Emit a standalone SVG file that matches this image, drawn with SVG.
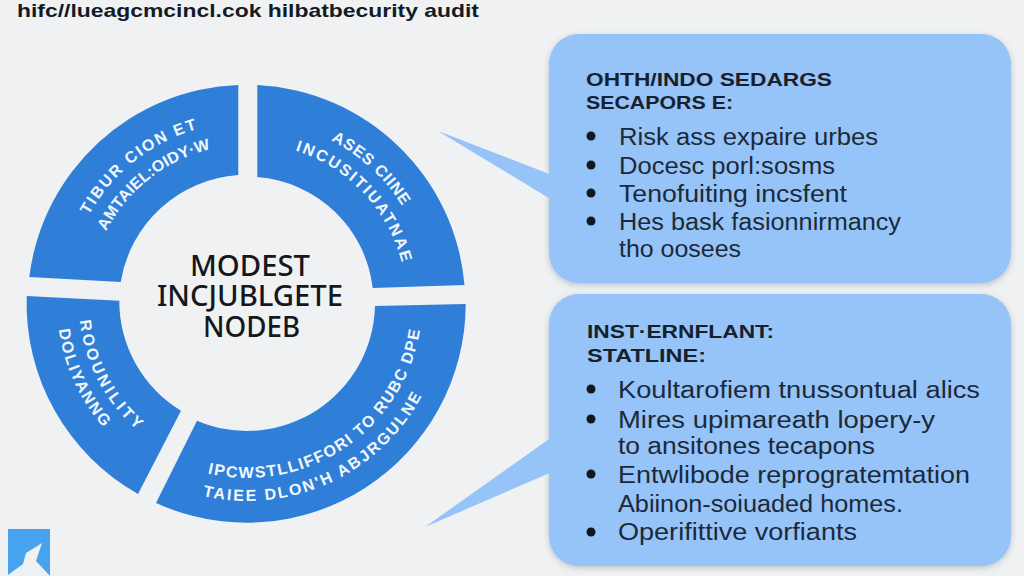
<svg xmlns="http://www.w3.org/2000/svg" width="1024" height="576" viewBox="0 0 1024 576">
<style>
.seg{fill:#2f7fd8}
.seglabel{font-family:"Liberation Sans",Arial,sans-serif;font-size:16px;font-weight:700;fill:#f2f7fd}
.center{font-family:"Noto Sans","Liberation Sans",sans-serif;font-size:28px;font-weight:500;fill:#14181d;text-anchor:start}
.panel{fill:#96c3f8;filter:url(#soft)}
.tail{fill:#96c3f8}
.head{font-family:"Liberation Sans",Arial,sans-serif;font-size:19px;font-weight:700;fill:#17212c}
.item{font-family:"Liberation Sans",Arial,sans-serif;font-size:23px;fill:#1c2a38}
.dot{fill:#10181f}
</style>
<defs>
<filter id="soft" x="-5%" y="-5%" width="110%" height="112%"><feDropShadow dx="0" dy="2" stdDeviation="3" flood-color="#5a6a7a" flood-opacity="0.35"/></filter>
<path id="tl1" d="M88.7 215.3A181 181 0 0 1 197.1 129"/>
<path id="tl2" d="M106.2 231.3A158 158 0 0 1 210.4 149.3"/>
<path id="tr1" d="M330.9 140.4A183 183 0 0 1 402.2 206"/>
<path id="tr2" d="M295.4 150.5A160 160 0 0 1 401.7 262.1"/>
<path id="br1" d="M207.6 473.5A175 175 0 0 0 419.8 330.4"/>
<path id="br2" d="M202.5 495.9A198 198 0 0 0 421.8 396"/>
<path id="bl1" d="M79.9 320.6A168 168 0 0 0 136.8 429.8"/>
<path id="bl2" d="M58.8 329.4A190 190 0 0 0 103.6 427.6"/>
</defs>
<rect id="background" width="1024" height="576" fill="#f0f1f2"/>
<text id="title" x="17" y="17" font-family="'Liberation Sans',Arial,sans-serif" font-size="19" font-weight="700" fill="#131c26" textLength="462" lengthAdjust="spacingAndGlyphs">hifc//lueagcmcincl.cok hilbatbecurity audit</text>

<g id="node-top-left">
<path class="seg" d="M238.3 85V175A128 128 0 0 0 120.7 282L29.3 277A219 219 0 0 1 238.3 85Z"/>
<text class="seglabel"><textPath href="#tl1" textLength="142" lengthAdjust="spacing">TIBUR CION ET</textPath></text>
<text class="seglabel"><textPath href="#tl2" textLength="137" lengthAdjust="spacing">AMTAIEL:OIDY·W</textPath></text>
</g>
<g id="node-top-right">
<path class="seg" d="M257.3 85A219 219 0 0 1 464.5 285L372.7 288A126 126 0 0 0 257.3 177Z"/>
<text class="seglabel"><textPath href="#tr1" textLength="98" lengthAdjust="spacing">ASES CIINE</textPath></text>
<text class="seglabel"><textPath href="#tr2" textLength="161" lengthAdjust="spacing">INCUSITIUATNAE</textPath></text>
</g>
<g id="node-bottom-right">
<path class="seg" d="M465.7 304A219 219 0 0 1 156 503L197 420.7A128 128 0 0 0 375 306Z"/>
<text class="seglabel"><textPath href="#br1" textLength="287" lengthAdjust="spacing">IPCWSTLLIFFORI  TO RUBC DPE</textPath></text>
<text class="seglabel"><textPath href="#br2" textLength="259" lengthAdjust="spacing">TAIEE DLON'H ABJRGULNE</textPath></text>
</g>
<g id="node-bottom-left">
<path class="seg" d="M26.7 296L119.3 300.7A128 128 0 0 0 181 410.7L138 494A219 219 0 0 1 26.7 296Z"/>
<text class="seglabel"><textPath href="#bl1" textLength="126" lengthAdjust="spacing">ROOUNILITY</textPath></text>
<text class="seglabel"><textPath href="#bl2" textLength="109" lengthAdjust="spacing">DOLIYANNG</textPath></text>
</g>
<g id="node-center">
<text class="center" x="190" y="276" textLength="120" lengthAdjust="spacingAndGlyphs">MODEST</text>
<text class="center" x="157" y="306" textLength="186" lengthAdjust="spacingAndGlyphs">INCJUBLGETE</text>
<text class="center" x="203" y="337" textLength="97" lengthAdjust="spacingAndGlyphs">NODEB</text>
</g>

<g id="node-panel-top">
<rect class="panel" x="549" y="34" width="462" height="249" rx="30"/>
<text class="head" x="586" y="86" textLength="246" lengthAdjust="spacingAndGlyphs">OHTH/INDO SEDARGS</text>
<text class="head" x="586" y="109" textLength="147" lengthAdjust="spacingAndGlyphs">SECAPORS E:</text>
<circle class="dot" cx="591" cy="136" r="4.5"/>
<circle class="dot" cx="591" cy="165" r="4.5"/>
<circle class="dot" cx="591" cy="193" r="4.5"/>
<circle class="dot" cx="591" cy="221" r="4.5"/>
<text class="item" x="619" y="145" textLength="259" lengthAdjust="spacingAndGlyphs">Risk ass expaire urbes</text>
<text class="item" x="619" y="174" textLength="216" lengthAdjust="spacingAndGlyphs">Docesc porl:sosms</text>
<text class="item" x="619" y="202" textLength="228" lengthAdjust="spacingAndGlyphs">Tenofuiting incsfent</text>
<text class="item" x="619" y="230" textLength="282" lengthAdjust="spacingAndGlyphs">Hes bask fasionnirmancy</text>
<text class="item" x="619" y="257" textLength="122" lengthAdjust="spacingAndGlyphs">tho oosees</text>
</g>
<g id="node-panel-bottom">
<rect class="panel" x="549" y="294" width="462" height="272" rx="30"/>
<text class="head" x="587" y="338" textLength="187" lengthAdjust="spacingAndGlyphs">INST·ERNFLANT:</text>
<text class="head" x="587" y="362" textLength="119" lengthAdjust="spacingAndGlyphs">STATLINE:</text>
<circle class="dot" cx="591" cy="389" r="4.5"/>
<circle class="dot" cx="591" cy="419" r="4.5"/>
<circle class="dot" cx="591" cy="474" r="4.5"/>
<circle class="dot" cx="591" cy="532" r="4.5"/>
<text class="item" x="618" y="398" textLength="362" lengthAdjust="spacingAndGlyphs">Koultarofiem tnussontual alics</text>
<text class="item" x="618" y="428" textLength="317" lengthAdjust="spacingAndGlyphs">Mires upimareath lopery-y</text>
<text class="item" x="618" y="454" textLength="257" lengthAdjust="spacingAndGlyphs">to ansitones tecapons</text>
<text class="item" x="618" y="483" textLength="352" lengthAdjust="spacingAndGlyphs">Entwlibode reprogratemtation</text>
<text class="item" x="618" y="512" textLength="285" lengthAdjust="spacingAndGlyphs">Abiinon-soiuaded homes.</text>
<text class="item" x="618" y="540" textLength="239" lengthAdjust="spacingAndGlyphs">Operifittive vorfiants</text>
</g>
<g id="connectors">
<polygon class="tail" points="438,131 552,175 552,200"/>
<polygon class="tail" points="425,527 552,437 552,472"/>
</g>
<g id="logo">
<rect x="8" y="529" width="42" height="47" fill="#48a3ef"/>
<polygon points="8,575 23,564 26,553 42,543 36,561 50,576 8,576" fill="#eef1f3"/>
</g>
</svg>
